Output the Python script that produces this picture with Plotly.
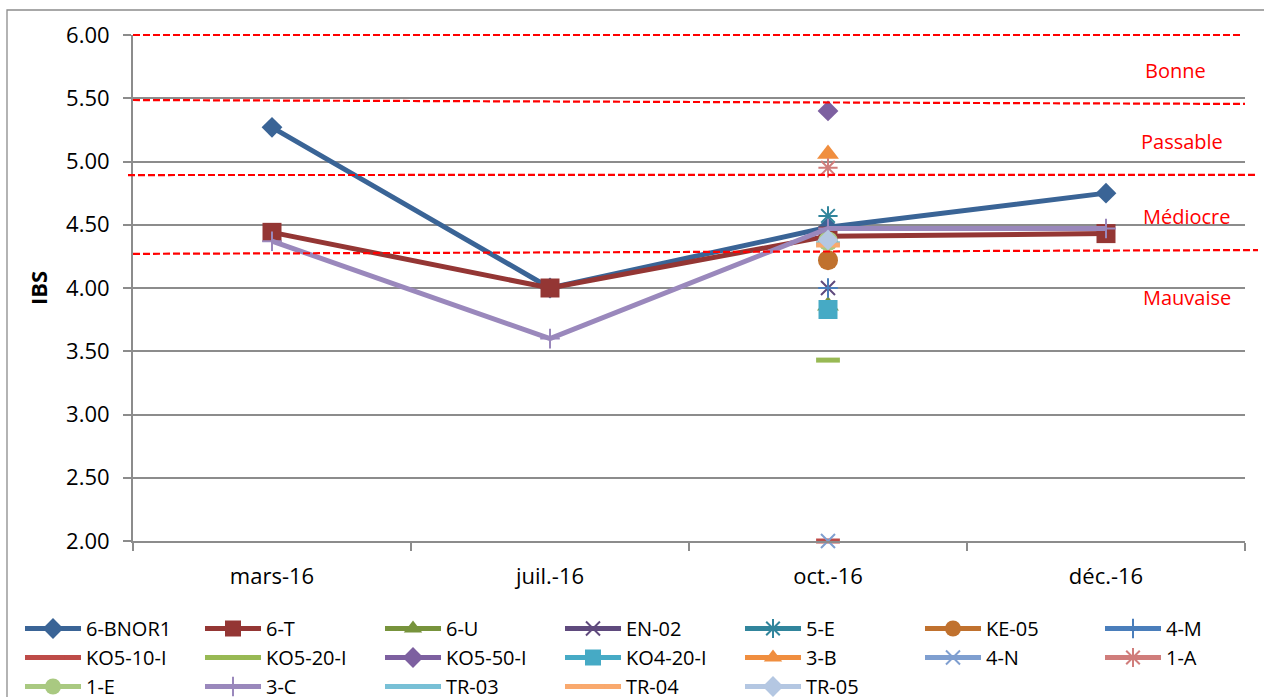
import plotly.graph_objects as go

# ---------------- data ----------------
months = ["mars-16", "juil.-16", "oct.-16", "déc.-16"]

series_names = ["6-BNOR1", "6-T", "6-U", "EN-02", "5-E", "KE-05", "4-M",
                "KO5-10-I", "KO5-20-I", "KO5-50-I", "KO4-20-I", "3-B", "4-N",
                "1-A", "1-E", "3-C", "TR-03", "TR-04", "TR-05"]

ibs_6_BNOR1 = [5.27, 4.00, 4.48, 4.75]
ibs_6_T = [4.44, 4.00, 4.41, 4.43]
ibs_6_U = [None, None, 3.86, None]
ibs_EN_02 = [None, None, 4.00, None]
ibs_5_E = [None, None, 4.57, None]
ibs_KE_05 = [None, None, 4.22, None]
ibs_4_M = [None, None, 4.00, None]
ibs_KO5_10_I = [None, None, 2.00, None]
ibs_KO5_20_I = [None, None, 3.43, None]
ibs_KO5_50_I = [None, None, 5.40, None]
ibs_KO4_20_I = [None, None, 3.83, None]
ibs_3_B = [None, None, 5.06, None]
ibs_4_N = [None, None, 2.00, None]
ibs_1_A = [None, None, 4.95, None]
ibs_1_E = [None, None, 4.37, None]
ibs_3_C = [4.37, 3.60, 4.47, 4.47]
ibs_TR_03 = [None, None, 4.35, None]
ibs_TR_04 = [None, None, 4.34, None]
ibs_TR_05 = [None, None, 4.38, None]

series_values = [ibs_6_BNOR1, ibs_6_T, ibs_6_U, ibs_EN_02, ibs_5_E, ibs_KE_05, ibs_4_M,
                 ibs_KO5_10_I, ibs_KO5_20_I, ibs_KO5_50_I, ibs_KO4_20_I, ibs_3_B, ibs_4_N,
                 ibs_1_A, ibs_1_E, ibs_3_C, ibs_TR_03, ibs_TR_04, ibs_TR_05]

y_ticks = [2.0, 2.5, 3.0, 3.5, 4.0, 4.5, 5.0, 5.5, 6.0]

# quality class thresholds (hand-drawn dashed lines: value at left end, value at right end)
threshold_left = [6.00, 5.486, 4.893, 4.27]
threshold_right = [6.00, 5.455, 4.895, 4.30]
class_labels = ["Bonne", "Passable", "Médiocre", "Mauvaise"]
class_label_y = [5.72, 5.16, 4.565, 3.925]

# ---------------- styles ----------------
colors = ["#3A6496", "#943634", "#77933C", "#5F4A7D", "#31859C", "#C0712E", "#4A7EBB",
          "#BE4B48", "#98B954", "#7D60A0", "#46AAC5", "#F08E3F", "#7F9FD0",
          "#D07D7B", "#A9C981", "#9A88BC", "#78C0D6", "#F9A96E", "#B4C7E2"]
symbols = ["diamond", "square", "triangle-up", "x-thin", "asterisk", "circle", "cross-thin",
           "line-ew", "line-ew", "diamond", "square", "triangle-up", "x-thin",
           "asterisk", "circle", "cross-thin", "line-ew", "line-ew", "diamond"]
sizes = {"diamond": 16, "square": 19, "triangle-up": 19, "x-thin": 14, "asterisk": 16,
         "circle": 20, "cross-thin": 14, "line-ew": 17}
line_symbols = {"x-thin", "asterisk", "cross-thin", "line-ew"}

FONT = "Open Sans"

fig = go.Figure()
for name, vals, col, sym in zip(series_names, series_values, colors, symbols):
    if sym in line_symbols:
        lw = 5 if sym == "line-ew" else 2
        marker = dict(symbol=sym, size=sizes[sym], color=col, line=dict(width=lw, color=col))
    else:
        marker = dict(symbol=sym, size=sizes[sym], color=col, line=dict(width=0))
    fig.add_trace(go.Scatter(
        x=months, y=vals, name=name, mode="lines+markers",
        line=dict(color=col, width=5), marker=marker,
        cliponaxis=False, connectgaps=False,
    ))

# ---------------- layout ----------------
W, H = 1264, 697
ML, MR, MT, MB = 133, 0, 35, 156
plot_w = W - ML - MR          # full plotting width (legend can use it)
plot_h = H - MT - MB
axis_w = 1112                 # visible axis width
y_min, y_max = 2.0, 6.0

def ypaper(v):
    return (v - y_min) / (y_max - y_min)

def xpaper(px):
    return (px - ML) / plot_w

def ypx(py):
    return (H - MB - py) / plot_h

shapes = []
line_x_start = [133, 133, 128, 133]
line_x_end = [1243, 1245, 1255, 1258]
for vl, vr, xs, xe in zip(threshold_left, threshold_right, line_x_start, line_x_end):
    shapes.append(dict(type="line", xref="paper", yref="paper",
                       x0=xpaper(xs), x1=xpaper(xe), y0=ypaper(vl), y1=ypaper(vr),
                       line=dict(color="#FF0000", width=2.2, dash="7px,3px"), layer="above"))
# outer chart frame
shapes.append(dict(type="rect", xref="paper", yref="paper",
                   x0=xpaper(7), x1=xpaper(1275), y0=ypx(705), y1=ypx(10),
                   line=dict(color="#8C8C8C", width=1.3), layer="below"))

annotations = []
label_x = [1175, 1182, 1187, 1187]
for txt, yv, lx in zip(class_labels, class_label_y, label_x):
    annotations.append(dict(text=txt, xref="paper", yref="y", x=xpaper(lx), y=yv,
                            showarrow=False, xanchor="center", yanchor="middle",
                            font=dict(family=FONT, size=20, color="#FF0000")))

grid_col = "#8C8C8C"
fig.update_layout(
    width=W, height=H,
    margin=dict(l=ML, r=MR, t=MT, b=MB, autoexpand=False),
    paper_bgcolor="white", plot_bgcolor="white",
    font=dict(family=FONT, size=22, color="black"),
    showlegend=True,
    legend=dict(orientation="h", x=xpaper(20), xanchor="left", y=ypx(609), yanchor="top",
                font=dict(family=FONT, size=20, color="black"),
                itemwidth=56, entrywidth=109, entrywidthmode="pixels", traceorder="normal",
                bgcolor="rgba(0,0,0,0)", borderwidth=0),
    xaxis=dict(type="category", categoryorder="array", categoryarray=months,
               domain=[0, axis_w / plot_w], range=[-0.5, 3.5],
               showgrid=False, showline=True, linecolor=grid_col, linewidth=2,
               ticks="outside", tickson="boundaries", ticklen=8, tickwidth=2, tickcolor=grid_col,
               ticklabelstandoff=15, tickfont=dict(family=FONT, size=22, color="black"),
               zeroline=False, fixedrange=True),
    yaxis=dict(range=[y_min, y_max], tickvals=y_ticks, tickformat=".2f",
               showgrid=True, gridcolor=grid_col, gridwidth=2,
               showline=True, linecolor=grid_col, linewidth=2,
               ticks="outside", ticklen=8, tickwidth=2, tickcolor=grid_col,
               ticklabelstandoff=9, tickfont=dict(family=FONT, size=22, color="black"),
               title=dict(text="<b>IBS</b>", font=dict(family=FONT, size=22, color="black"), standoff=12),
               zeroline=False, automargin=False, fixedrange=True),
    shapes=shapes, annotations=annotations,
)

fig.write_html("out.html", config={"displayModeBar": False, "staticPlot": False},
               post_script="document.body.style.margin='0';document.body.style.overflow='hidden';")
